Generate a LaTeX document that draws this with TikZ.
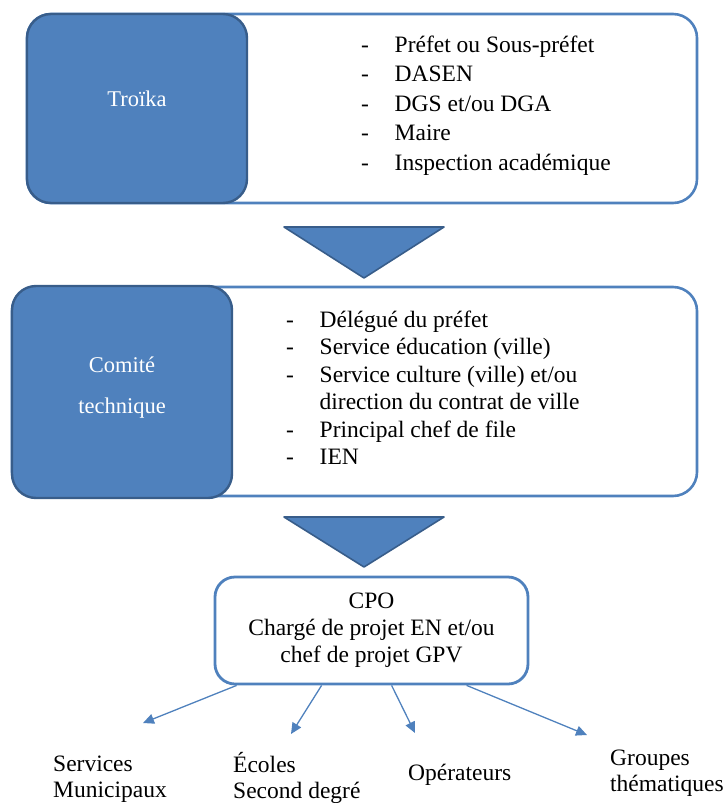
\documentclass[tikz,border=0pt]{standalone}
\usepackage{fontspec}
\setmainfont{Liberation Serif}
\usetikzlibrary{arrows.meta}

\definecolor{boxblue}{HTML}{4F81BD}
\definecolor{boxedge}{HTML}{385D8A}
\newcommand{\dashitem}{\makebox[33.5pt][l]{-}}

\begin{document}
\begin{tikzpicture}[x=1pt,y=-1pt]

\tikzset{panel/.style = {draw=boxblue, line width=2.6pt, fill=white, rounded corners=24pt, inner sep=0pt}}
\tikzset{head/.style = {draw=boxedge, line width=2.4pt, fill=boxblue, rounded corners=24pt, inner sep=0pt, minimum width=220pt}}
\tikzset{headtxt/.style = {text=white, anchor=base, inner sep=0pt, font=\fontsize{22.5}{41}\selectfont}}
\tikzset{listtxt/.style = {anchor=base west, inner sep=0pt}}
\tikzset{chevron/.style = {draw=boxedge, line width=1.6pt, fill=boxblue, line join=round}}
\tikzset{edge/.style = {->, > = {Triangle[length=11pt,width=10pt]}, draw=boxblue, line width=1.3pt}}
\tikzset{leaf/.style = {anchor=base west, inner sep=0pt, font=\fontsize{23.5}{26}\selectfont}}

\useasboundingbox (0,0) rectangle (726,803);

%boxes
\node[panel, minimum width=670pt, minimum height=189pt] (troikabox) at (362,108.5) {};
\node[head, minimum height=189pt] (troika) at (137,108.5) {};
\node[headtxt] (troikatxt) at (137,106) {Troïka};
\node[listtxt, font=\fontsize{23.5}{29.5}\selectfont] (troikalist) at (361,52) {%
  \begin{tabular}[t]{@{}l@{}}
  \dashitem Préfet ou Sous-préfet\\
  \dashitem DASEN\\
  \dashitem DGS et/ou DGA\\
  \dashitem Maire\\
  \dashitem Inspection académique
  \end{tabular}};

\node[panel, minimum width=685pt, minimum height=209pt] (comitebox) at (354.5,391.5) {};
\node[head, minimum height=212pt] (comite) at (122,392) {};
\node[headtxt] (comitetxt) at (122,372) {%
  \begin{tabular}[t]{@{}c@{}}Comité\\technique\end{tabular}};
\node[listtxt, font=\fontsize{23.5}{27.5}\selectfont] (comitelist) at (286,327) {%
  \begin{tabular}[t]{@{}l@{}}
  \dashitem Délégué du préfet\\
  \dashitem Service éducation (ville)\\
  \dashitem Service culture (ville) et/ou\\
  \hspace*{33.5pt}direction du contrat de ville\\
  \dashitem Principal chef de file\\
  \dashitem IEN
  \end{tabular}};

\node[panel, line width=2.8pt, rounded corners=20pt, minimum width=313pt, minimum height=107pt,
  align=center, font=\fontsize{23.5}{27}\selectfont] (cpo) at (371.5,630.5)
  {CPO\\Chargé de projet EN et/ou\\chef de projet GPV};

%chevrons
\draw[chevron] (284,227) -- (444,227) -- (364,278) -- cycle;
\draw[chevron] (284,517) -- (444,517) -- (364,567) -- cycle;

%leaves
\node[leaf] (services) at (53,771) {\begin{tabular}[t]{@{}l@{}}Services\\Municipaux\end{tabular}};
\node[leaf] (ecoles) at (233,772) {\begin{tabular}[t]{@{}l@{}}Écoles\\Second degré\end{tabular}};
\node[leaf] (operateurs) at (408,780) {Opérateurs};
\node[leaf] (groupes) at (610,765) {\begin{tabular}[t]{@{}l@{}}Groupes\\thématiques\end{tabular}};

\coordinate (tip1) at (143,723);
\coordinate (tip2) at (291,734);
\coordinate (tip3) at (415,733);
\coordinate (tip4) at (587,735);

%edges
\draw[edge] ([xshift=23pt]cpo.south west) -- (tip1);
\draw[edge] ([xshift=108pt]cpo.south west) -- (tip2);
\draw[edge] ([xshift=178pt]cpo.south west) -- (tip3);
\draw[edge] ([xshift=253pt]cpo.south west) -- (tip4);

\end{tikzpicture}
\end{document}
